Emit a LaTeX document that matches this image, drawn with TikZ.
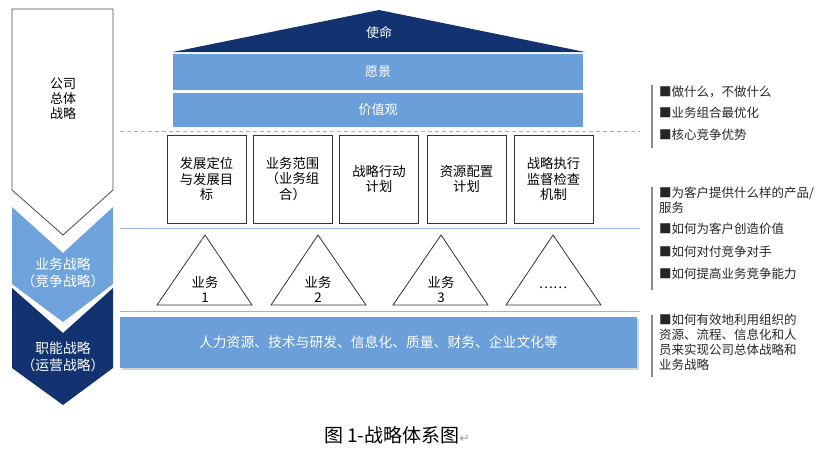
\documentclass[tikz,border=0pt]{standalone}
\usepackage{fontspec}
\newfontfamily\cjk{Noto Sans CJK SC}
\newfontfamily\symf{DejaVu Sans}
\usetikzlibrary{shadows}
\definecolor{navy}{HTML}{12336F}
\definecolor{lblue}{HTML}{6A9FDA}
\definecolor{chevblue}{HTML}{6FA3DC}
\definecolor{sepline}{HTML}{95B6DE}
\definecolor{notebar}{HTML}{8C8C8C}
\begin{document}
\begin{tikzpicture}[x=1pt,y=-1pt,
  font=\cjk\fontsize{13}{15}\selectfont,
  bar/.style={fill=lblue, draw=none, text=white, minimum width=410pt, inner sep=0pt},
  stratbox/.style={draw=black!80, line width=0.8pt, minimum width=79pt, minimum height=88pt, align=center, inner sep=1pt, text width=62pt, font=\cjk\fontsize{13.3}{15.5}\selectfont},
  tri/.style={draw=black!80, line width=0.8pt, line join=miter},
  trilabel/.style={align=center, inner sep=0pt, font=\cjk\fontsize{13.3}{15}\selectfont},
  note/.style={anchor=west, inner sep=0pt, font=\cjk\fontsize{12.5}{15}\selectfont, text=black!85},
  sep/.style={draw=sepline, line width=1pt},
  nbar/.style={draw=notebar, line width=1.5pt},
  chevtext/.style={align=center, inner sep=0pt, font=\cjk\fontsize{13}{15}\selectfont},
  chevtextw/.style={align=center, inner sep=0pt, text=white, font=\cjk\fontsize{13.8}{17}\selectfont}]
\useasboundingbox (0,0) rectangle (827,450);
% left chevrons
\path[draw=black!70, line width=0.8pt, fill=white] (12,9) -- (113,9) -- (113,190) -- (63,235) -- (12,190) -- cycle;
\path[fill=chevblue] (12,207) -- (63,253) -- (113,207) -- (113,284) -- (63,322) -- (12,284) -- cycle;
\path[fill=navy] (12,288) -- (63,333) -- (113,288) -- (113,368) -- (63,405) -- (12,368) -- cycle;
\node[chevtext] (corp) at (63,99) {公司\\总体\\战略};
\node[chevtextw] (biz) at (63,273) {业务战略\\（竞争战略）};
\node[chevtextw] (func) at (63,357) {职能战略\\（运营战略）};
% roof
\path[fill=navy] (173,52) -- (379,10) -- (585,52) -- cycle;
\node[text=white, inner sep=0pt] (mission) at (379,33) {使命};
\node[bar, minimum height=36pt] (vision) at (378,72) {愿景};
\node[bar, minimum height=34pt] (values) at (378,110) {价值观};
% separators
\draw[sep, dash pattern=on 4pt off 3pt] (120,131) -- (640,131);
\draw[sep] (120,228) -- (640,228);
\draw[sep] (120,311) -- (640,311);
% boxes
\node[stratbox] (b1) at (206.5,179) {发展定位\\与发展目\\标};
\node[stratbox] (b2) at (292.5,179) {业务范围\\（业务组\\合）};
\node[stratbox] (b3) at (379,179) {战略行动\\计划};
\node[stratbox] (b4) at (466.5,179) {资源配置\\计划};
\node[stratbox] (b5) at (553.5,179) {战略执行\\监督检查\\机制};
% triangles
\draw[tri] (157,305) -- (205,235) -- (252,305) -- cycle;
\draw[tri] (271,305) -- (318,235) -- (366,305) -- cycle;
\draw[tri] (393,305) -- (441,235) -- (488,305) -- cycle;
\draw[tri] (506,305) -- (553,235) -- (601,305) -- cycle;
\node[trilabel] (t1) at (205,289) {业务\\1};
\node[trilabel] (t2) at (318,289) {业务\\2};
\node[trilabel] (t3) at (441,289) {业务\\3};
\node[trilabel] (t4) at (553,288) {……};
% functional bar
\node[fill=lblue, text=white, minimum width=517pt, minimum height=51pt, inner sep=0pt,
  font=\cjk\fontsize{13.8}{16}\selectfont,
  drop shadow={shadow xshift=1.5pt, shadow yshift=-2pt, opacity=0.35}] (funcbar) at (378.5,342.5)
  {人力资源、技术与研发、信息化、质量、财务、企业文化等};
% notes
\draw[nbar] (652,85) -- (652,148);
\draw[nbar] (652,187) -- (652,290);
\draw[nbar] (652,315) -- (652,377);
\node[note] (n1) at (659,92) {■做什么，不做什么};
\node[note] (n2) at (659,113) {■业务组合最优化};
\node[note] (n3) at (659,135) {■核心竞争优势};
\node[note] (n4) at (659,193) {■为客户提供什么样的产品/};
\node[note] (n4b) at (659,208) {服务};
\node[note] (n5) at (659,229) {■如何为客户创造价值};
\node[note] (n6) at (659,252) {■如何对付竞争对手};
\node[note] (n7) at (659,274) {■如何提高业务竞争能力};
\node[note] (n8) at (659,320) {■如何有效地利用组织的};
\node[note] (n8b) at (659,335) {资源、流程、信息化和人};
\node[note] (n8c) at (659,350) {员来实现公司总体战略和};
\node[note] (n8d) at (659,365) {业务战略};
% caption
\node[anchor=west, inner sep=0pt, font=\cjk\fontsize{19}{21}\selectfont] (cap) at (324,435) {图 1-战略体系图{\color{black!40}\symf\fontsize{12}{14}\selectfont ↵}};
\end{tikzpicture}
\end{document}
